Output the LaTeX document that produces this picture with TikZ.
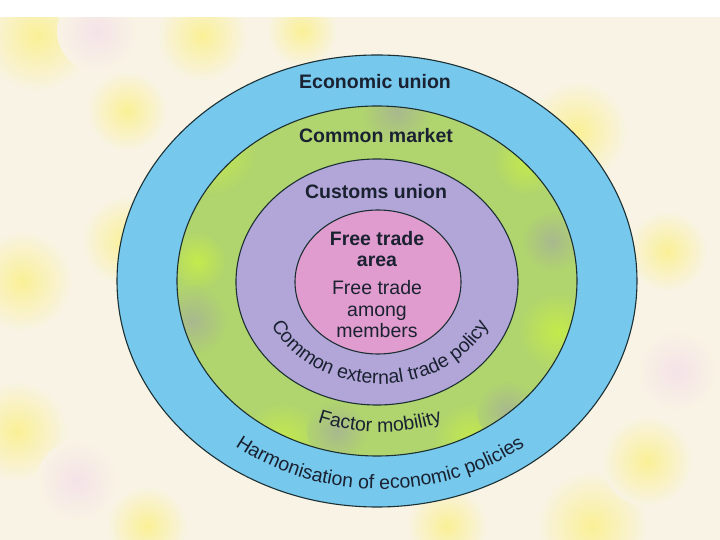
\documentclass[tikz,border=0pt]{standalone}
\usepackage{fontspec}
\setmainfont{Liberation Sans}
\usetikzlibrary{decorations.text}
\definecolor{bgcream}{RGB}{248,243,228}
\definecolor{blobyellow}{RGB}{250,240,150}
\definecolor{blobpink}{RGB}{245,226,232}
\definecolor{ringblue}{RGB}{118,200,236}
\definecolor{ringgreen}{RGB}{176,212,110}
\definecolor{limegreen}{RGB}{196,234,76}
\definecolor{greygreen}{RGB}{168,184,142}
\definecolor{ringpurple}{RGB}{178,166,216}
\definecolor{ringpink}{RGB}{224,156,206}
\definecolor{edgecol}{RGB}{28,48,52}
\definecolor{txt}{RGB}{26,34,50}
\tikzset{
  ring/.style={draw=edgecol, line width=1.1pt},
  lab/.style={text=txt, font=\fontsize{19.5}{21}\selectfont, anchor=base, inner sep=0pt},
  blab/.style={lab, font=\fontsize{19.5}{21}\selectfont\bfseries},
  bgblob/.style={inner color=blobyellow, outer color=bgcream},
  pkblob/.style={inner color=blobpink, outer color=bgcream},
}
\begin{document}
\begin{tikzpicture}[x=1pt,y=1pt]
\useasboundingbox (-377,-259) rectangle (343,281);
\fill[bgcream] (-377,-259) rectangle (343,281);
% background blotches
\shade[bgblob] (-340,245) circle (55);
\shade[bgblob] (-175,245) circle (45);
\shade[bgblob] (-75,250) circle (35);
\shade[bgblob] (-250,170) circle (40);
\shade[bgblob] (-250,40) circle (45);
\shade[bgblob] (200,150) circle (50);
\shade[bgblob] (-355,0) circle (50);
\shade[bgblob] (-360,-150) circle (50);
\shade[bgblob] (215,-245) circle (55);
\shade[bgblob] (270,-180) circle (45);
\shade[bgblob] (70,-245) circle (40);
\shade[bgblob] (-230,-245) circle (40);
\shade[bgblob] (290,30) circle (40);
\shade[pkblob] (-280,250) circle (40);
\shade[pkblob] (-300,-200) circle (40);
\shade[pkblob] (300,-90) circle (40);
% white strip at top
\fill[white] (-377,264) rectangle (343,281);
% outer ring
\draw[ring, fill=ringblue] (0,0) ellipse [x radius=260pt, y radius=226pt];
% green ring with mottling
\begin{scope}
  \clip (0,0) ellipse [x radius=200pt, y radius=175pt];
  \fill[ringgreen] (0,0) ellipse [x radius=200pt, y radius=175pt];
  \shade[inner color=limegreen, outer color=ringgreen] (-165,130) circle (45);
  \shade[inner color=limegreen, outer color=ringgreen] (180,-50) circle (40);
  \shade[inner color=limegreen, outer color=ringgreen] (-95,-160) circle (40);
  \shade[inner color=limegreen, outer color=ringgreen] (95,-160) circle (40);
  \shade[inner color=limegreen, outer color=ringgreen] (150,120) circle (35);
  \shade[inner color=limegreen, outer color=ringgreen] (-180,20) circle (30);
  \shade[inner color=greygreen, outer color=ringgreen] (-185,-40) circle (35);
  \shade[inner color=greygreen, outer color=ringgreen] (20,170) circle (35);
  \shade[inner color=greygreen, outer color=ringgreen] (-40,-150) circle (30);
  \shade[inner color=greygreen, outer color=ringgreen] (175,40) circle (30);
  \shade[inner color=greygreen, outer color=ringgreen] (130,-130) circle (30);
\end{scope}
\draw[ring] (0,0) ellipse [x radius=200pt, y radius=175pt];
% purple and pink
\draw[ring, fill=ringpurple] (0,-1) ellipse [x radius=141pt, y radius=123pt];
\draw[ring, fill=ringpink] (1,-1) ellipse [x radius=83pt, y radius=72pt];
% straight labels
\node[blab] (eu) at (-2,192) {Economic union};
\node[blab] (cm) at (-1,138) {Common market};
\node[blab] (cu) at (-1,82) {Customs union};
\node[blab] (fta1) at (0,35) {Free trade};
\node[blab] (fta2) at (0,14) {area};
\node[lab] (ft1) at (0,-14) {Free trade};
\node[lab] (ft2) at (0,-36) {among};
\node[lab] (ft3) at (0,-57) {members};
% curved labels
\path[decorate, decoration={text along path, text align=center, text color=txt,
  text={|\fontsize{19.5}{21}\selectfont|Common external trade policy}}]
  (-117,0) arc[start angle=180, end angle=360, x radius=120pt, y radius=103pt];
\path[decorate, decoration={text along path, text align=center, text color=txt,
  text={|\fontsize{19.5}{21}\selectfont|Factor mobility}}]
  (-171,0) arc[start angle=180, end angle=360, x radius=174pt, y radius=151pt];
\path[decorate, decoration={text along path, text align=center, text color=txt,
  text={|\fontsize{19.5}{21}\selectfont|Harmonisation of economic policies}}]
  (-235,0) arc[start angle=180, end angle=360, x radius=238pt, y radius=208pt];
\end{tikzpicture}
\end{document}
